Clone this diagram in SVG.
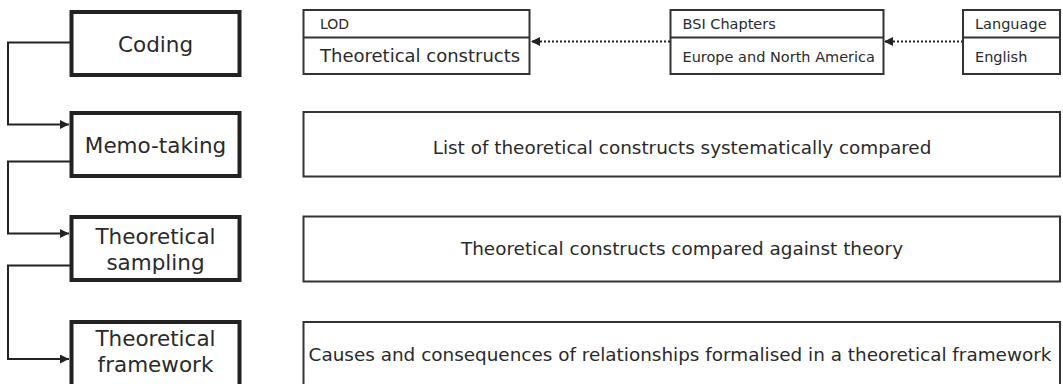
<svg xmlns="http://www.w3.org/2000/svg" width="1063" height="384" viewBox="0 0 1063 384">
<style>
text{font-family:"DejaVu Sans",Verdana,sans-serif;fill:#2a2a2a}
.step{fill:#fff;stroke:#222;stroke-width:4}
.box{fill:#fff;stroke:#333;stroke-width:2}
.lbl{font-size:21.5px;text-anchor:middle}
.mid{font-size:18.4px;text-anchor:middle}
.conn{fill:none;stroke:#222;stroke-width:2}
.dot{fill:none;stroke:#222;stroke-width:2;stroke-dasharray:2 2}
</style>
<defs>
<marker id="ah" viewBox="0 0 10 10" refX="10" refY="5" markerWidth="9" markerHeight="9" markerUnits="userSpaceOnUse" orient="auto">
<path d="M0,0L10,5L0,10z" fill="#222"/>
</marker>
</defs>
<g id="connectors">
<path class="conn" d="M71,42.5H8V124.5H69" marker-end="url(#ah)"/>
<path class="conn" d="M71,161.5H8V233.5H69" marker-end="url(#ah)"/>
<path class="conn" d="M71,265.5H8V359H69" marker-end="url(#ah)"/>
<path class="dot" d="M670,41.5H531" marker-end="url(#ah)"/>
<path class="dot" d="M963,41.5H884" marker-end="url(#ah)"/>
</g>
<g id="coding"><rect class="step" x="71.5" y="12" width="168" height="63"/><text class="lbl" x="155.5" y="52">Coding</text></g>
<g id="memo"><rect class="step" x="71.5" y="113" width="168" height="63"/><text class="lbl" x="155.5" y="153">Memo-taking</text></g>
<g id="sampling"><rect class="step" x="71.5" y="217" width="168" height="63"/><text class="lbl" x="155.5" y="244">Theoretical</text><text class="lbl" x="155.5" y="270">sampling</text></g>
<g id="framework"><rect class="step" x="71.5" y="322" width="168" height="66"/><text class="lbl" x="155.5" y="346">Theoretical</text><text class="lbl" x="155.5" y="372">framework</text></g>
<g id="lod"><rect class="box" x="303.5" y="10" width="226" height="64"/><line x1="303.5" y1="37.5" x2="529.5" y2="37.5" stroke="#333" stroke-width="2"/><text x="320" y="29" font-size="14px">LOD</text><text x="320" y="62" font-size="18px">Theoretical constructs</text></g>
<g id="bsi"><rect class="box" x="670.5" y="10" width="213" height="64"/><line x1="670.5" y1="37.5" x2="883.5" y2="37.5" stroke="#333" stroke-width="2"/><text x="682.5" y="29" font-size="14.5px">BSI Chapters</text><text x="682.5" y="62" font-size="14.5px">Europe and North America</text></g>
<g id="language"><rect class="box" x="963" y="10" width="97" height="64"/><line x1="963" y1="37.5" x2="1060" y2="37.5" stroke="#333" stroke-width="2"/><text x="975" y="29" font-size="14.5px">Language</text><text x="975" y="62" font-size="14.5px">English</text></g>
<g id="list"><rect class="box" x="303.5" y="112" width="756.5" height="64.5"/><text class="mid" x="682" y="154">List of theoretical constructs systematically compared</text></g>
<g id="compared"><rect class="box" x="303.5" y="216.5" width="756.5" height="65"/><text class="mid" x="682" y="255">Theoretical constructs compared against theory</text></g>
<g id="causes"><rect class="box" x="303.5" y="322" width="756.5" height="66"/><text class="mid" x="680" y="361">Causes and consequences of relationships formalised in a theoretical framework</text></g>
</svg>
